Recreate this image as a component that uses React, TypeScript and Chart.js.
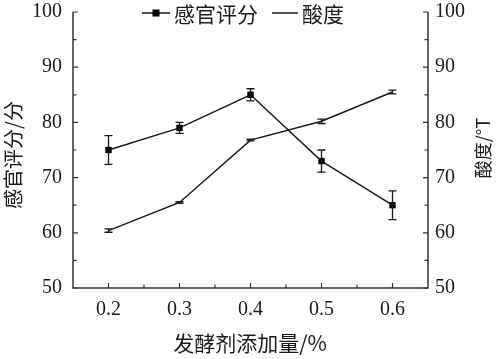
import React, { useEffect, useRef } from "react";
import { Chart, registerables } from "chart.js";
Chart.register(...registerables);

const doses = [0.2, 0.3, 0.4, 0.5, 0.6];
const sensoryScore = [75, 79, 85, 73, 65];
const sensoryErr = [2.6, 1.0, 1.1, 2.0, 2.6];
const acidity = [60.4, 65.5, 76.8, 80.2, 85.5];
const acidityErr = [0.3, 0.15, 0.15, 0.4, 0.35];
const yMajor = [50, 60, 70, 80, 90, 100];
const yMinor = [55, 65, 75, 85, 95];
const xMinor = [0.25, 0.35, 0.45, 0.55];
const sensoryLabel = "感官评分";
const acidityLabel = "酸度";
const xTitle = "发酵剂添加量/%";
const yLeftTitle = "感官评分/分";
const yRightTitle = "酸度/°T";

const CJK = '"Noto Sans CJK SC", "Liberation Serif", serif';
const SERIF = '"Liberation Serif", "Times New Roman", serif';
const INK = "#1a1a1a";

const customPlugin = {
  id: "custom",
  afterDatasetsDraw(chart: any) {
    const ctx = chart.ctx;
    const xs = chart.scales.x;
    ctx.save();
    ctx.strokeStyle = INK;
    ctx.lineWidth = 1.3;
    const drawErr = (vals: number[], errs: number[], scale: any) => {
      doses.forEach((d, i) => {
        const x = xs.getPixelForValue(d);
        const y1 = scale.getPixelForValue(vals[i] + errs[i]);
        const y2 = scale.getPixelForValue(vals[i] - errs[i]);
        ctx.beginPath();
        ctx.moveTo(x, y1);
        ctx.lineTo(x, y2);
        ctx.moveTo(x - 4, y1);
        ctx.lineTo(x + 4, y1);
        ctx.moveTo(x - 4, y2);
        ctx.lineTo(x + 4, y2);
        ctx.stroke();
      });
    };
    drawErr(sensoryScore, sensoryErr, chart.scales.y);
    drawErr(acidity, acidityErr, chart.scales.y2);
    ctx.restore();
  },
  afterDraw(chart: any) {
    const ctx = chart.ctx;
    const { left, right, top, bottom } = chart.chartArea;
    const xs = chart.scales.x;
    const yl = chart.scales.y;
    ctx.save();
    ctx.strokeStyle = "#333";
    ctx.lineWidth = 1.5;
    ctx.beginPath();
    ctx.moveTo(left, top);
    ctx.lineTo(left, bottom);
    ctx.lineTo(right, bottom);
    ctx.lineTo(right, top);
    ctx.stroke();
    ctx.lineWidth = 1.2;
    ctx.beginPath();
    yMajor.forEach((v) => {
      const y = yl.getPixelForValue(v);
      ctx.moveTo(left, y); ctx.lineTo(left + 5, y);
      ctx.moveTo(right, y); ctx.lineTo(right - 5, y);
    });
    yMinor.forEach((v) => {
      const y = yl.getPixelForValue(v);
      ctx.moveTo(left, y); ctx.lineTo(left + 3.5, y);
      ctx.moveTo(right, y); ctx.lineTo(right - 3.5, y);
    });
    doses.forEach((v) => {
      const x = xs.getPixelForValue(v);
      ctx.moveTo(x, bottom); ctx.lineTo(x, bottom - 5);
    });
    xMinor.forEach((v) => {
      const x = xs.getPixelForValue(v);
      ctx.moveTo(x, bottom); ctx.lineTo(x, bottom - 3.5);
    });
    ctx.stroke();

    // titles
    ctx.fillStyle = INK;
    ctx.textBaseline = "middle";
    ctx.textAlign = "center";
    ctx.font = `21px ${CJK}`;
    ctx.fillText(xTitle, 250, 343);
    ctx.save();
    ctx.translate(13, 155);
    ctx.rotate(-Math.PI / 2);
    ctx.font = `20px ${CJK}`;
    ctx.fillText(yLeftTitle, 0, 0);
    ctx.restore();
    ctx.save();
    ctx.translate(483, 148);
    ctx.rotate(-Math.PI / 2);
    ctx.font = `18px ${CJK}`;
    ctx.fillText(yRightTitle, 0, 0);
    ctx.restore();

    // legend
    const ly = 13;
    ctx.strokeStyle = INK;
    ctx.lineWidth = 1.5;
    ctx.beginPath();
    ctx.moveTo(142, ly); ctx.lineTo(170, ly);
    ctx.moveTo(272, ly); ctx.lineTo(298, ly);
    ctx.stroke();
    ctx.fillStyle = "#000";
    ctx.fillRect(156 - 3.5, ly - 3.5, 7, 7);
    ctx.fillStyle = INK;
    ctx.textAlign = "left";
    ctx.font = `21px ${CJK}`;
    ctx.fillText(sensoryLabel, 174, ly + 1);
    ctx.fillText(acidityLabel, 302, ly + 1);
    ctx.restore();
  },
};

export default function App() {
  const ref = useRef<HTMLCanvasElement>(null);
  useEffect(() => {
    if (!ref.current) return;
    const tickFont = { family: SERIF, size: 20 };
    const fitY = (s: any) => {
      s.width = 73;
      s.paddingTop = 0;
      s.paddingBottom = 0;
    };
    const chart = new Chart(ref.current, {
      type: "line",
      data: {
        datasets: [
          {
            label: sensoryLabel,
            data: doses.map((d, i) => ({ x: d, y: sensoryScore[i] })),
            borderColor: INK,
            backgroundColor: "#000",
            borderWidth: 1.5,
            pointStyle: "rect",
            pointRadius: 4.5,
            pointBorderWidth: 0,
            yAxisID: "y",
          },
          {
            label: acidityLabel,
            data: doses.map((d, i) => ({ x: d, y: acidity[i] })),
            borderColor: INK,
            borderWidth: 1.5,
            pointRadius: 0,
            yAxisID: "y2",
          },
        ],
      },
      options: {
        animation: false,
        responsive: true,
        maintainAspectRatio: false,
        layout: { padding: { top: 12, left: 0, right: 0, bottom: 0 } },
        plugins: { legend: { display: false }, tooltip: { enabled: false } },
        scales: {
          x: {
            type: "linear",
            min: 0.15,
            max: 0.65,
            afterBuildTicks: (s: any) => {
              s.ticks = doses.map((v) => ({ value: v }));
            },
            afterFit: (s: any) => {
              s.height = 71;
              s.paddingLeft = 0;
              s.paddingRight = 0;
            },
            grid: { display: false, drawTicks: false },
            border: { display: false },
            ticks: {
              font: tickFont,
              color: INK,
              padding: 10,
              maxRotation: 0,
              callback: (v: any) => Number(v).toFixed(1),
            },
          },
          y: {
            position: "left",
            min: 50,
            max: 100,
            afterFit: fitY,
            grid: { display: false, drawTicks: false },
            border: { display: false },
            ticks: { stepSize: 10, font: tickFont, color: INK, padding: 11 },
          },
          y2: {
            position: "right",
            min: 50,
            max: 100,
            afterFit: fitY,
            grid: { display: false, drawTicks: false },
            border: { display: false },
            ticks: { stepSize: 10, font: tickFont, color: INK, padding: 7 },
          },
        },
      },
      plugins: [customPlugin],
    } as any);
    return () => chart.destroy();
  }, []);
  return (
    <div style={{ position: "fixed", left: 0, top: 0, width: 501, height: 359, background: "#fff" }}>
      <canvas ref={ref} />
    </div>
  );
}
